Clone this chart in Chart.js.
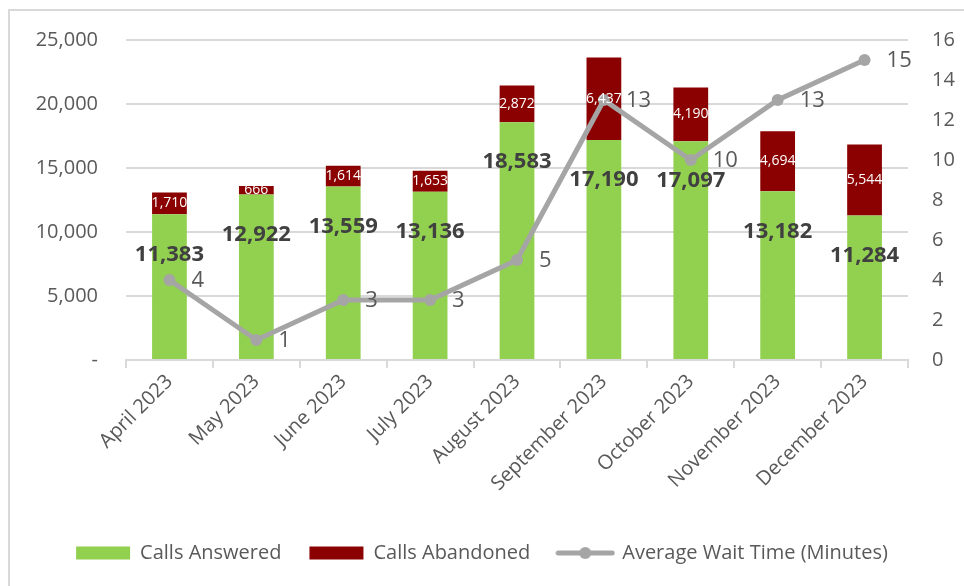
<!DOCTYPE html>
<html>
<head>
<meta charset="utf-8">
<script src="https://cdn.jsdelivr.net/npm/chart.js@4.4.1/dist/chart.umd.min.js"></script>
<style>
  html, body { margin: 0; padding: 0; background: #fff; }
  #wrap { position: relative; width: 964px; height: 586px; }
  #frame { position: absolute; left: 8px; top: 9px; right: 0; bottom: 0;
           border-left: 2px solid #d9d9d9; border-top: 2px solid #d9d9d9; }
  #chart { position: absolute; left: 0; top: 0; }
</style>
</head>
<body>
<div id="wrap">
  <div id="frame"></div>
  <canvas id="chart" width="964" height="586"></canvas>
</div>
<script>
const months = ["April 2023", "May 2023", "June 2023", "July 2023", "August 2023",
                "September 2023", "October 2023", "November 2023", "December 2023"];
const answered = [11383, 12922, 13559, 13136, 18583, 17190, 17097, 13182, 11284];
const abandoned = [1710, 666, 1614, 1653, 2872, 6437, 4190, 4694, 5544];
const waitTime = [4, 1, 3, 3, 5, 13, 10, 13, 15];

const leftTicks = [0, 5000, 10000, 15000, 20000, 25000];
const rightTicks = [0, 2, 4, 6, 8, 10, 12, 14, 16];

const GREEN = "#92D050";
const RED = "#8B0000";
const GREY = "#A5A5A5";
const TEXT = "#595959";
const FONT = "'Open Sans', 'Noto Sans', sans-serif";

const fmt = (v) => v.toLocaleString("en-US");

// legend marker for the line series: a line with a dot in the middle
const lineMarker = document.createElement("canvas");
lineMarker.width = 60;
lineMarker.height = 14;
(function () {
    const c = lineMarker.getContext("2d");
    c.strokeStyle = GREY;
    c.lineWidth = 5;
    c.lineCap = "round";
    c.beginPath();
    c.moveTo(3, 7);
    c.lineTo(57, 7);
    c.stroke();
    c.fillStyle = GREY;
    c.beginPath();
    c.arc(30, 7, 6, 0, Math.PI * 2);
    c.fill();
})();

const valueLabels = {
    id: "valueLabels",
    afterDatasetsDraw(chart) {
        const ctx = chart.ctx;
        ctx.save();
        ctx.textAlign = "center";
        ctx.textBaseline = "middle";

        // abandoned: white, centred in the segment
        chart.getDatasetMeta(1).data.forEach((bar, i) => {
            ctx.font = "14px " + FONT;
            ctx.fillStyle = "#ffffff";
            ctx.fillText(fmt(abandoned[i]), bar.x, (bar.y + bar.base) / 2);
        });

        // answered: bold dark grey, a little below the top of the segment
        chart.getDatasetMeta(0).data.forEach((bar, i) => {
            ctx.font = "bold 22px " + FONT;
            ctx.fillStyle = "#404040";
            ctx.fillText(fmt(answered[i]), bar.x, bar.y + 40);
        });

        // wait time: to the right of the point
        ctx.textAlign = "left";
        chart.getDatasetMeta(2).data.forEach((pt, i) => {
            ctx.font = "22px " + FONT;
            ctx.fillStyle = TEXT;
            ctx.fillText(String(waitTime[i]), pt.x + 22, pt.y + 1);
        });
        ctx.restore();
    },
};

new Chart(document.getElementById("chart"), {
    data: {
        labels: months,
        datasets: [
            {
                type: "bar",
                label: "Calls Answered",
                data: answered,
                backgroundColor: GREEN,
                yAxisID: "y",
                stack: "calls",
                categoryPercentage: 1,
                barPercentage: 0.4,
                order: 2,
            },
            {
                type: "bar",
                label: "Calls Abandoned",
                data: abandoned,
                backgroundColor: RED,
                yAxisID: "y",
                stack: "calls",
                categoryPercentage: 1,
                barPercentage: 0.4,
                order: 2,
            },
            {
                type: "line",
                label: "Average Wait Time (Minutes)",
                data: waitTime,
                borderColor: GREY,
                backgroundColor: GREY,
                borderWidth: 5,
                pointRadius: 6,
                pointHoverRadius: 6,
                pointBackgroundColor: GREY,
                pointBorderWidth: 0,
                yAxisID: "y1",
                order: 1,
            },
        ],
    },
    options: {
        responsive: false,
        animation: false,
        events: [],
        layout: { padding: { top: 30, bottom: 13, left: 0, right: 0 } },
        plugins: {
            tooltip: { enabled: false },
            legend: {
                position: "bottom",
                labels: {
                    usePointStyle: true,
                    pointStyleWidth: 54,
                    boxHeight: 13,
                    padding: 28,
                    color: TEXT,
                    font: { family: FONT, size: 20 },
                    sort: (a, b) => a.datasetIndex - b.datasetIndex,
                    generateLabels(chart) {
                        const items = Chart.defaults.plugins.legend.labels.generateLabels(chart);
                        items.forEach((it) => {
                            if (it.datasetIndex === 2) {
                                it.pointStyle = lineMarker;
                            } else {
                                it.pointStyle = "rect";
                                it.lineWidth = 0;
                            }
                        });
                        return items;
                    },
                },
            },
        },
        scales: {
            x: {
                stacked: true,
                grid: {
                    offset: true,
                    drawOnChartArea: false,
                    drawTicks: true,
                    tickLength: 8,
                    color: "#d9d9d9",
                    lineWidth: 2,
                },
                border: { color: "#d9d9d9", width: 2 },
                ticks: {
                    color: TEXT,
                    font: { family: FONT, size: 20 },
                    minRotation: 45,
                    maxRotation: 45,
                    padding: 2,
                },
                afterFit(scale) { scale.height = 155; },
            },
            y: {
                stacked: true,
                position: "left",
                min: 0,
                max: 25000,
                afterBuildTicks(scale) { scale.ticks = leftTicks.map((v) => ({ value: v })); },
                ticks: {
                    color: TEXT,
                    font: { family: FONT, size: 20 },
                    padding: 28,
                    callback: (v) => (v === 0 ? "-" : fmt(v)),
                },
                grid: {
                    color: (c) => (c.tick && c.tick.value === 0 ? "rgba(0,0,0,0)" : "#d9d9d9"),
                    lineWidth: 2,
                    drawTicks: false,
                },
                border: { display: false },
                afterFit(scale) { scale.width = 126; },
            },
            y1: {
                position: "right",
                min: 0,
                max: 16,
                afterBuildTicks(scale) { scale.ticks = rightTicks.map((v) => ({ value: v })); },
                ticks: {
                    color: TEXT,
                    font: { family: FONT, size: 20 },
                    padding: 24,
                },
                grid: { drawOnChartArea: false, drawTicks: false },
                border: { display: false },
                afterFit(scale) { scale.width = 56; },
            },
        },
    },
    plugins: [valueLabels],
});
</script>
</body>
</html>
